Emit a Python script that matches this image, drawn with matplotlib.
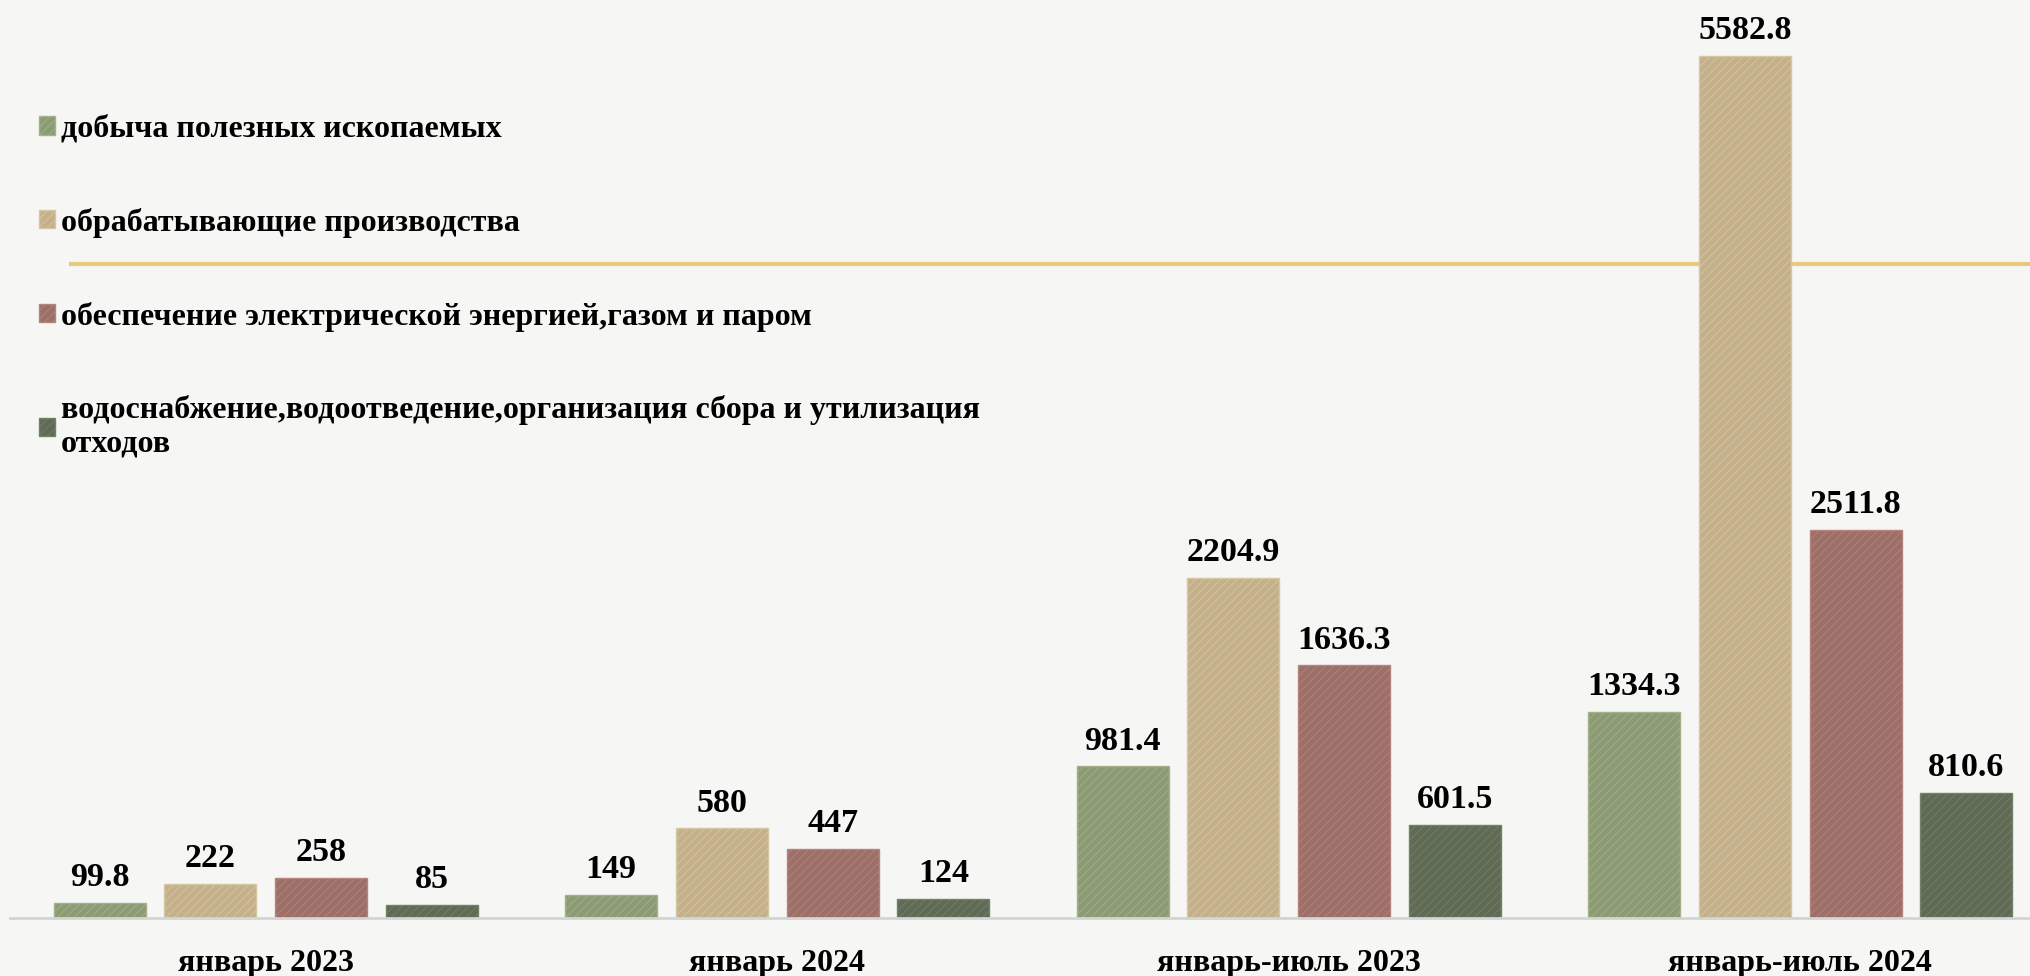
import numpy as np
import matplotlib.pyplot as plt
from matplotlib.lines import Line2D

# data
periods = ['январь 2023', 'январь 2024', 'январь-июль 2023', 'январь-июль 2024']
series_names = ['добыча полезных ископаемых',
                'обрабатывающие производства',
                'обеспечение электрической энергией,газом и паром',
                'водоснабжение,водоотведение,организация сбора и утилизация\nотходов']
mining = [99.8, 149, 981.4, 1334.3]
manufacturing = [222, 580, 2204.9, 5582.8]
energy = [258, 447, 1636.3, 2511.8]
water = [85, 124, 601.5, 810.6]

colors = ['#8b9b74', '#c4b18b', '#9d6f69', '#5f6b55']
edges = ['#a3b28c', '#d6c6a2', '#b4847e', '#748068']

plt.rcParams['font.family'] = ['Liberation Serif', 'DejaVu Serif']
plt.rcParams['font.weight'] = 'bold'
plt.rcParams['hatch.linewidth'] = 0.6

fig = plt.figure(figsize=(20.31, 9.76), dpi=100)
fig.patch.set_facecolor('#f6f6f4')
ax = fig.add_axes([10/2031, 58/976, 2046/2031, 918/976])
ax.set_facecolor('none')

# decorative gold line from the slide template, behind the bars
fig.lines.append(Line2D([71/2031, 1.0], [1-264/976, 1-264/976], transform=fig.transFigure,
                        color='#e8ca7e', lw=3, zorder=-1))

x = np.arange(len(periods))
width = 0.18
step = 0.2165
all_series = [mining, manufacturing, energy, water]
for i, vals in enumerate(all_series):
    pos = x + (i - 1.5) * step
    bars = ax.bar(pos, vals, width, color=colors[i], edgecolor=edges[i], linewidth=1,
                  hatch='////', label=series_names[i])
    for b, v in zip(bars, vals):
        txt = f'{v:g}'
        ax.annotate(txt, (b.get_x() + b.get_width()/2, v), xytext=(0, 7),
                    textcoords='offset points', ha='center', va='bottom',
                    fontsize=24.5, fontweight='bold')

ax.set_xlim(-0.5, 3.5)
ax.set_ylim(0, 5945)
ax.set_xticks(x)
ax.set_xticklabels(periods, fontsize=23, fontweight='bold')
ax.tick_params(axis='x', length=0, pad=22)
ax.set_yticks([])
for s in ['top', 'right', 'left']:
    ax.spines[s].set_visible(False)
ax.spines['bottom'].set_color('#d4d4d4')
ax.spines['bottom'].set_linewidth(2)

leg = ax.legend(loc='upper left', bbox_to_anchor=(26/2031, 1-102/976), bbox_transform=fig.transFigure,
                frameon=False, fontsize=23, handlelength=0.5, handleheight=0.5,
                handletextpad=0.2, labelspacing=2.0, borderaxespad=0)
for t in leg.get_texts():
    t.set_fontweight('bold')

fig.savefig('out.png', dpi=100, facecolor=fig.get_facecolor())
